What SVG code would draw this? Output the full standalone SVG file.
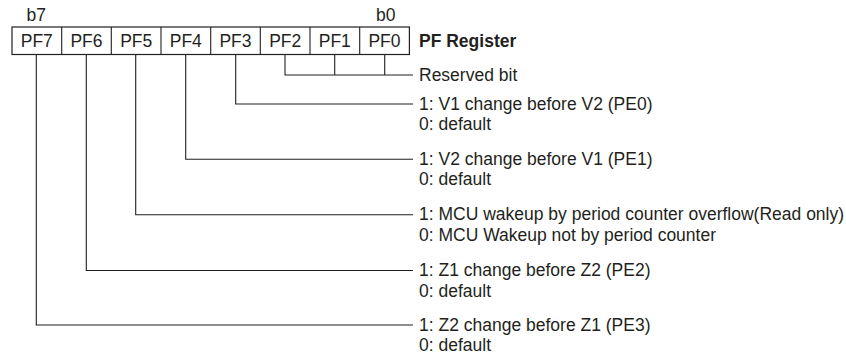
<svg xmlns="http://www.w3.org/2000/svg" width="846" height="354" viewBox="0 0 846 354">
<style>
text{font-family:"Liberation Sans",Arial,sans-serif;fill:#231f20;font-size:17.5px}
.cell text{text-anchor:middle;font-size:17.5px}
.b{font-weight:bold}
.ln{fill:none;stroke:#231f20;stroke-width:1.1}
.box{fill:#fff;stroke:#231f20;stroke-width:1.2}
</style>
<rect width="846" height="354" fill="#fff"/>
<g id="bits">
<text x="26.5" y="21">b7</text>
<text x="376" y="21">b0</text>
</g>
<g id="register" class="cell">
<rect class="box" x="12" y="27" width="397.4" height="27.5"/>
<path class="ln" d="M61.7 27v27.5M111.3 27v27.5M161 27v27.5M210.7 27v27.5M260.3 27v27.5M310 27v27.5M359.7 27v27.5"/>
<text x="36.8" y="46.5">PF7</text>
<text x="86.5" y="46.5">PF6</text>
<text x="136.2" y="46.5">PF5</text>
<text x="185.8" y="46.5">PF4</text>
<text x="235.5" y="46.5">PF3</text>
<text x="285.2" y="46.5">PF2</text>
<text x="334.8" y="46.5">PF1</text>
<text x="384.5" y="46.5">PF0</text>
</g>
<g id="title"><text class="b" x="419" y="46.5">PF Register</text></g>
<g id="connectors">
<path class="ln" d="M285 54.5V75H413M334.7 54.5V75M384.7 54.5V75"/>
<path class="ln" d="M235.7 54.5V104H413"/>
<path class="ln" d="M185.7 54.5V159.3H413"/>
<path class="ln" d="M135.7 54.5V214.7H413"/>
<path class="ln" d="M86.3 54.5V270.5H413"/>
<path class="ln" d="M36.3 54.5V325H413"/>
</g>
<g id="desc-reserved"><text x="419" y="81">Reserved bit</text></g>
<g id="desc-pf3"><text x="419" y="109.8">1: V1 change before V2 (PE0)</text><text x="419" y="129.8">0: default</text></g>
<g id="desc-pf4"><text x="419" y="165">1: V2 change before V1 (PE1)</text><text x="419" y="185">0: default</text></g>
<g id="desc-pf5"><text x="419" y="220.4">1: MCU wakeup by period counter overflow(Read only)</text><text x="419" y="241.4">0: MCU Wakeup not by period counter</text></g>
<g id="desc-pf6"><text x="419" y="276.2">1: Z1 change before Z2 (PE2)</text><text x="419" y="297.2">0: default</text></g>
<g id="desc-pf7"><text x="419" y="330.7">1: Z2 change before Z1 (PE3)</text><text x="419" y="351">0: default</text></g>
</svg>
